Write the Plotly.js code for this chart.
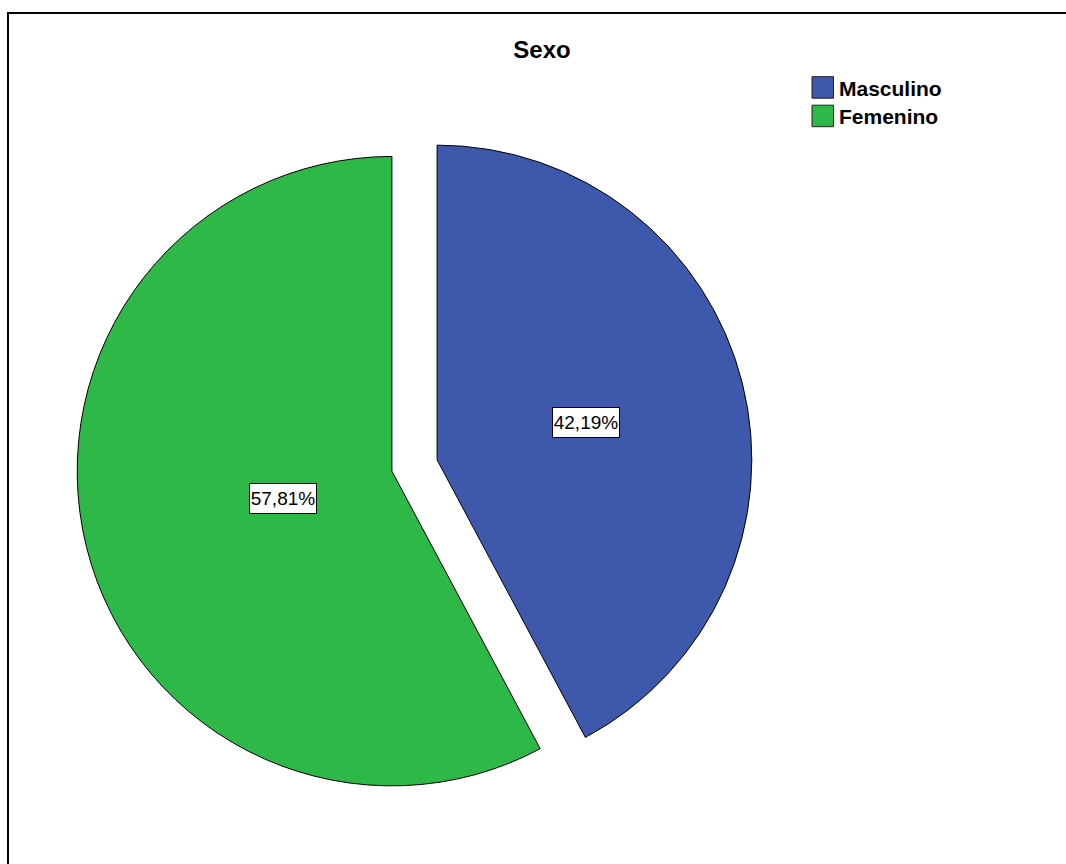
<!DOCTYPE html>
<html>
<head>
<meta charset="utf-8">
<script src="https://cdn.plot.ly/plotly-3.0.1.min.js"></script>
<style>html,body{margin:0;padding:0;background:#fff;}#chart{width:1066px;height:864px;}</style>
</head>
<body>
<div id="chart"></div>
<script>
// ---- data ----
var categories = ["Masculino", "Femenino"];
var percentages = [42.19, 57.81];
var sliceColors = ["#3E58AC", "#2EB848"];
var chartTitle = "Sexo";

// ---- layout constants ----
var W = 1066, H = 864;
var PULL = 0.074;
var cxPx = 414.5, cyPx = 465.5, halfPx = 338;
var domX = [(cxPx - halfPx) / W, (cxPx + halfPx) / W];
var domY = [1 - (cyPx + halfPx) / H, 1 - (cyPx - halfPx) / H];
var FONT = "Liberation Sans, Arial, sans-serif";

function fmt(v) { return v.toFixed(2).replace(".", ",") + "%"; }

// compute label positions (sector centroids) from the data
var total = percentages.reduce(function (a, b) { return a + b; }, 0);
var rad = halfPx / (1 + PULL);
var annotations = [];
var cum = 0;
for (var i = 0; i < percentages.length; i++) {
  var frac = percentages[i] / total;
  var a0 = cum * 2 * Math.PI, a1 = (cum + frac) * 2 * Math.PI;
  cum += frac;
  var mid = (a0 + a1) / 2;
  var alpha = (a1 - a0) / 2;
  var sx = cxPx + PULL * rad * Math.sin(mid);
  var sy = cyPx - PULL * rad * Math.cos(mid);
  var d = 2 * rad * Math.sin(alpha) / (3 * alpha);
  var lx = sx + d * Math.sin(mid);
  var ly = sy - d * Math.cos(mid);
  annotations.push({
    xref: "paper", yref: "paper", x: lx / W, y: 1 - ly / H,
    xanchor: "center", yanchor: "middle", showarrow: false,
    text: fmt(percentages[i]),
    font: {family: FONT, size: 19, color: "#000"},
    width: 64, height: 27, align: "center", valign: "middle",
    bgcolor: "#fff", bordercolor: "#000", borderwidth: 1, borderpad: 1
  });
}

// custom legend (large square swatches)
var shapes = [];
var legX0 = 812, legSize = 21.5, legY0 = 76.7, legStep = 28.5;
for (var j = 0; j < categories.length; j++) {
  var rowTop = legY0 + j * legStep;
  shapes.push({
    type: "rect", xref: "paper", yref: "paper",
    x0: legX0 / W, x1: (legX0 + legSize) / W,
    y0: 1 - (rowTop + legSize) / H, y1: 1 - rowTop / H,
    fillcolor: sliceColors[j], line: {color: "#222", width: 1}
  });
  annotations.push({
    xref: "paper", yref: "paper", x: (legX0 + legSize + 3) / W, y: 1 - (rowTop + legSize / 2 + 1) / H,
    xanchor: "left", yanchor: "middle", showarrow: false,
    text: "<b>" + categories[j] + "</b>",
    font: {family: FONT, size: 21, color: "#000"}
  });
}

// outer frame
shapes.push({
  type: "rect", xref: "paper", yref: "paper",
  x0: 8 / W, x1: 1.02, y0: -0.02, y1: 1 - 13 / H,
  line: {color: "#000", width: 2}, fillcolor: "rgba(0,0,0,0)"
});

var trace = {
  type: "pie",
  labels: categories,
  values: percentages,
  sort: false,
  direction: "clockwise",
  rotation: 0,
  pull: PULL,
  textinfo: "none",
  hoverinfo: "label+percent",
  marker: {colors: sliceColors, line: {color: "#000", width: 1}},
  domain: {x: domX, y: domY},
  showlegend: false
};

var layout = {
  width: W, height: H,
  margin: {l: 0, r: 0, t: 0, b: 0},
  paper_bgcolor: "#fff",
  showlegend: false,
  title: {
    text: "<b>" + chartTitle + "</b>",
    x: 542 / W, xanchor: "center", xref: "paper",
    y: 1 - 50 / H, yanchor: "middle", yref: "container",
    font: {family: FONT, size: 24, color: "#000"}
  },
  annotations: annotations,
  shapes: shapes
};

Plotly.newPlot("chart", [trace], layout, {displayModeBar: false, staticPlot: true});
</script>
</body>
</html>
